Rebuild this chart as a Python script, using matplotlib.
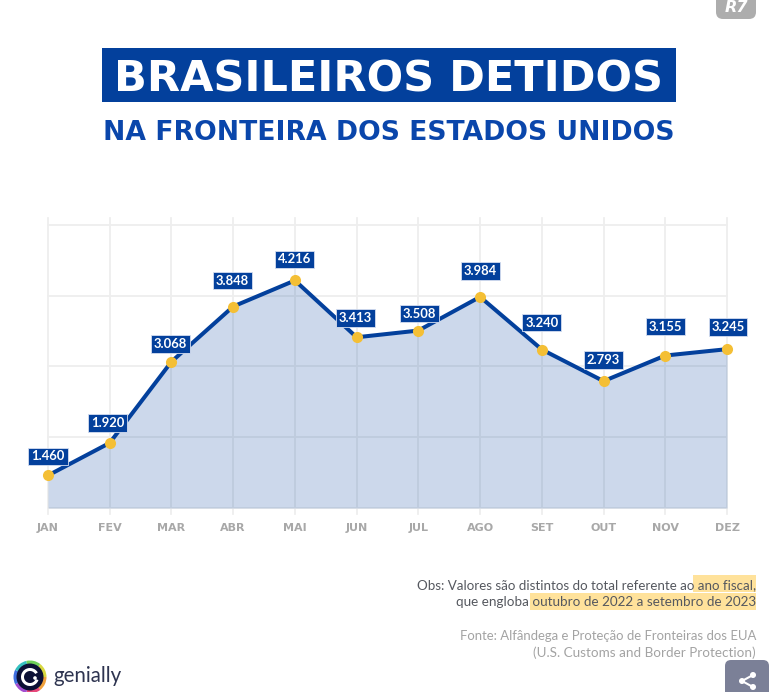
import matplotlib
matplotlib.use('Agg')
import matplotlib.pyplot as plt
from matplotlib.patches import Rectangle, Circle, Wedge, FancyBboxPatch

# dados do grafico
meses = ['JAN', 'FEV', 'MAR', 'ABR', 'MAI', 'JUN', 'JUL', 'AGO', 'SET', 'OUT', 'NOV', 'DEZ']
detidos = [1460, 1920, 3068, 3848, 4216, 3413, 3508, 3984, 3240, 2793, 3155, 3245]
grade_y = [1000, 2000, 3000, 4000, 5000]

# deslocamento das etiquetas em relacao ao ponto (pixels)
desloc_x = [0, -2, -1, -1, 0, -1, 1, 0, 0, 0, 0, 1]
desloc_y = [19, 20, 18, 26, 21, 19, 17, 26, 27, 21, 29, 22]

AZUL = '#03409c'
AMARELO = '#f4bf35'
W, H = 775, 692

fig = plt.figure(figsize=(W / 100, H / 100), dpi=100, facecolor='white')

# camada em pixels para titulo, notas e logos
bg = fig.add_axes([0, 0, 1, 1])
bg.set_xlim(0, W)
bg.set_ylim(H, 0)
bg.axis('off')

# titulo
bg.add_patch(Rectangle((102, 48), 574, 54, fc=AZUL, ec='none'))
bg.text(389, 75, 'BRASILEIROS DETIDOS', color='white', fontsize=31, fontweight='bold',
        family='DejaVu Sans', ha='center', va='center_baseline')
bg.text(389, 130, 'NA FRONTEIRA DOS ESTADOS UNIDOS', color='#0a46ab', fontsize=19.2,
        fontweight='bold', family='DejaVu Sans', ha='center', va='center_baseline')

# grafico (1000 fica em y=508 px, 5000 em y=225 px)
ax = fig.add_axes([48 / W, 1 - 514 / H, 679 / W, 296 / H])
ax.patch.set_alpha(0)
x = list(range(len(meses)))
ax.set_xlim(0, 11)
ax.set_ylim(915, 5099)
for s in ax.spines.values():
    s.set_visible(False)
ax.set_xticks(x)
ax.set_xticklabels(meses, fontsize=8, fontweight='bold', color='#a8a8a8', family='DejaVu Sans')
ax.set_yticks(grade_y)
ax.tick_params(axis='y', left=False, labelleft=False)
ax.tick_params(axis='x', bottom=False, pad=3)
ax.grid(True, color='#eeeeee', lw=1.3, clip_on=False)
ax.set_axisbelow(True)
for lin in ax.get_xgridlines() + ax.get_ygridlines():
    lin.set_clip_on(False)

ax.fill_between(x, detidos, 1000, color=AZUL, alpha=0.2, lw=0)
ax.plot(x, detidos, color=AZUL, lw=2.9, solid_joinstyle='round', clip_on=False)
ax.plot(x, detidos, 'o', color=AMARELO, ms=8, mec='none', clip_on=False, zorder=4)

for i, v in enumerate(detidos):
    txt = f'{v:,}'.replace(',', '.')
    ax.annotate(txt, (i, v), xytext=(desloc_x[i] * 0.72, desloc_y[i] * 0.72),
                textcoords='offset points', ha='center', va='center', color='white',
                fontsize=9.4, fontweight='bold', family='Lato', zorder=5,
                annotation_clip=False,
                bbox=dict(boxstyle='square,pad=0.22', fc=AZUL, ec='#d5def0', lw=0.6))

# notas, com o fundo amarelo atras do texto
bg.add_patch(Rectangle((693, 575), 63, 17, fc='#ffe29b', ec='none'))
bg.add_patch(Rectangle((530, 593), 226, 17, fc='#ffe29b', ec='none'))
nota = dict(ha='right', va='center', family='Lato')
bg.text(756, 585, 'Obs: Valores são distintos do total referente ao ano fiscal,', color='#55585f', fontsize=9.65, **nota)
bg.text(756, 602, 'que engloba outubro de 2022 a setembro de 2023', color='#55585f', fontsize=9.7, **nota)
bg.text(756, 636, 'Fonte: Alfândega e Proteção de Fronteiras dos EUA', color='#a3a3a3', fontsize=9.45, **nota)
bg.text(756, 653, '(U.S. Customs and Border Protection)', color='#a3a3a3', fontsize=9.7, **nota)

# logo R7
bg.add_patch(FancyBboxPatch((716, -8), 40, 27, boxstyle='round,pad=0,rounding_size=7', fc='#adadad', ec='none'))
bg.text(736, 8, 'R7', color='white', fontsize=11.5, fontweight='bold', style='italic',
        family='DejaVu Sans', ha='center', va='center')

# logo genially
cores = ['#f0a13c', '#e8487a', '#a44fd0', '#3f6fe0', '#35c0c0', '#6fd05a', '#d8d840']
for i, c in enumerate(cores):
    bg.add_patch(Wedge((30, 677), 16.5, i * 360 / 7, (i + 1) * 360 / 7, fc=c, ec='none'))
bg.add_patch(Circle((30, 677), 13.5, fc='#0b1035', ec='none'))
bg.add_patch(Wedge((30, 677), 9, 20, 330, width=3, fc='white', ec='none'))
bg.add_patch(Circle((35, 678), 1.8, fc='white', ec='none'))
bg.text(53, 676, 'genially', color='#2e3450', fontsize=14.8, family='Lato', ha='left', va='center')

# botao de compartilhar
bg.add_patch(FancyBboxPatch((725, 660), 44, 50, boxstyle='round,pad=0,rounding_size=6', fc='#7b8097', ec='none'))
bg.plot([753, 742, 753], [675, 681, 687], color='white', lw=1.5)
for cx, cy in [(753, 675), (742, 681), (753, 687)]:
    bg.add_patch(Circle((cx, cy), 3, fc='white', ec='none'))

fig.savefig('out.png', dpi=100)
